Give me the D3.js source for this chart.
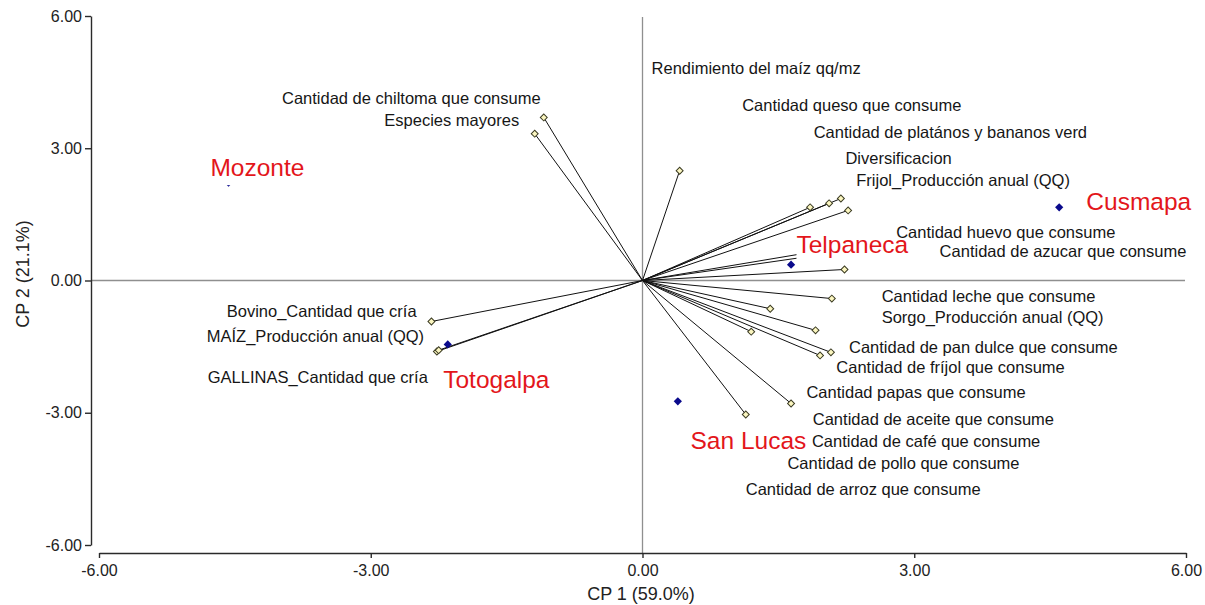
<html>
<script src='https://d3js.org/d3.v7.min.js'></script>
<style>
body { margin: 0; background: #fff; }
text { font-family: 'Liberation Sans', Arial, sans-serif; }
</style>
<body>
<svg width=1205 height=605></svg>
<script>
// variables (vectors) - CP1 / CP2 coordinates
var varNames = [
  "Rendimiento del maíz qq/mz", "Cantidad queso que consume", "Cantidad de platános y bananos verd",
  "Diversificacion", "Frijol_Producción anual (QQ)", "Cantidad huevo que consume",
  "Cantidad de azucar que consume", "Cantidad leche que consume", "Sorgo_Producción anual (QQ)",
  "Cantidad de pan dulce que consume", "Cantidad de fríjol que consume", "Cantidad papas que consume",
  "Cantidad de aceite que consume", "Cantidad de café que consume", "Cantidad de pollo que consume",
  "Cantidad de arroz que consume", "Cantidad de chiltoma que consume", "Especies mayores",
  "Bovino_Cantidad que cría", "MAÍZ_Producción anual (QQ)", "GALLINAS_Cantidad que cría"];
var varCP1 = [0.41, 1.85, 2.06, 2.19, 2.27, 1.80, 1.82, 2.23, 2.09, 1.91, 2.08, 1.96, 1.41, 1.20, 1.64, 1.14, -1.09, -1.19, -2.33, -2.27, -2.25];
var varCP2 = [2.49, 1.66, 1.75, 1.86, 1.59, 0.62, 0.54, 0.25, -0.41, -1.13, -1.63, -1.70, -0.64, -1.16, -2.79, -3.04, 3.70, 3.33, -0.93, -1.61, -1.58];

// sites
var siteNames = ["Mozonte", "Telpaneca", "Cusmapa", "Totogalpa", "San Lucas"];
var siteCP1 = [-4.57, 1.64, 4.60, -2.15, 0.39];
var siteCP2 = [2.22, 0.36, 1.66, -1.45, -2.74];

var tickVals = [-6, -3, 0, 3, 6];

// label anchors (left edge, middle) in CP units
var varLabelX = [0.10, 1.10, 1.89, 2.24, 2.36, 2.80, 3.28, 2.64, 2.64, 2.28, 2.14, 1.81, 1.88, 1.87, 1.60, 1.14, -3.98, -2.85, -4.59, -4.81, -4.80];
var varLabelY = [4.81, 3.97, 3.36, 2.77, 2.29, 1.11, 0.68, -0.36, -0.82, -1.50, -1.97, -2.54, -3.15, -3.65, -4.15, -4.74, 4.15, 3.65, -0.70, -1.27, -2.18];
var siteLabelX = [-4.77, 1.70, 4.90, -2.20, 0.53];
var siteLabelY = [2.56, 0.82, 1.79, -2.24, -3.63];

var svg = d3.select("svg");
var x = d3.scaleLinear().domain([-6, 6]).range([99, 1186]);
var y = d3.scaleLinear().domain([-6, 6]).range([545, 16]);
var fmt = function(d) { return d.toFixed(2); };

// zero reference lines
svg.append("line")
  .attr("x1", x(0)).attr("x2", x(0)).attr("y1", 17).attr("y2", 553)
  .attr("stroke", "#8f8f8f").attr("stroke-width", 1.3);
svg.append("line")
  .attr("x1", 91).attr("x2", 1185).attr("y1", y(0)).attr("y2", y(0))
  .attr("stroke", "#8f8f8f").attr("stroke-width", 1.3);

var vars = varNames.map(function(n, i) {
  return {name: n, a: varCP1[i], b: varCP2[i], lx: varLabelX[i], ly: varLabelY[i]};
});
var sites = siteNames.map(function(n, i) {
  return {name: n, a: siteCP1[i], b: siteCP2[i], lx: siteLabelX[i], ly: siteLabelY[i]};
});

// vectors
svg.append("g").selectAll("line").data(vars).enter().append("line")
  .attr("x1", x(0)).attr("y1", y(0))
  .attr("x2", function(d) { return x(d.a); })
  .attr("y2", function(d) { return y(d.b); })
  .attr("stroke", "#111").attr("stroke-width", 1);

var sq = d3.symbol().type(d3.symbolSquare);
svg.append("g").selectAll("path").data(vars).enter().append("path")
  .attr("d", sq.size(24)())
  .attr("transform", function(d) { return "translate(" + x(d.a) + "," + y(d.b) + ") rotate(45)"; })
  .attr("fill", "#fbf6c0").attr("stroke", "#3b3b22").attr("stroke-width", 1);

svg.append("g").selectAll("path").data(sites).enter().append("path")
  .attr("d", sq.size(34)())
  .attr("transform", function(d) { return "translate(" + x(d.a) + "," + y(d.b) + ") rotate(45)"; })
  .attr("fill", "#0a0a8c");

// site labels with white background
var sl = svg.append("g").selectAll("g").data(sites).enter().append("g");
sl.append("rect").attr("fill", "#fff");
sl.append("text")
  .attr("x", function(d) { return x(d.lx); })
  .attr("y", function(d) { return y(d.ly); })
  .attr("dominant-baseline", "central")
  .attr("font-size", 24.5)
  .attr("fill", "#e3161b")
  .text(function(d) { return d.name; });
sl.each(function() {
  var g = d3.select(this), b = g.select("text").node().getBBox();
  g.select("rect").attr("x", b.x).attr("y", b.y).attr("width", b.width + 2).attr("height", b.height + 4);
});

// variable labels
svg.append("g").selectAll("text").data(vars).enter().append("text")
  .attr("x", function(d) { return x(d.lx); })
  .attr("y", function(d) { return y(d.ly); })
  .attr("dominant-baseline", "central")
  .attr("font-size", 16.5)
  .attr("fill", "#161616")
  .text(function(d) { return d.name; });

// axes
var yAxis = svg.append("g").attr("transform", "translate(91,0)")
  .call(d3.axisLeft(y).tickValues(tickVals).tickFormat(fmt).tickSize(6).tickSizeOuter(0).tickPadding(3));
var xAxis = svg.append("g").attr("transform", "translate(0,553)")
  .call(d3.axisBottom(x).tickValues(tickVals).tickFormat(fmt).tickSize(5).tickSizeOuter(0).tickPadding(7));
[yAxis, xAxis].forEach(function(a) {
  a.selectAll("path, line").attr("stroke", "#2a2a2a").attr("stroke-width", 1.4);
  a.selectAll("text").attr("font-size", 16).attr("fill", "#222")
    .attr("font-family", "'Liberation Sans', Arial, sans-serif");
});

svg.append("text")
  .attr("x", 641).attr("y", 594)
  .attr("text-anchor", "middle").attr("dominant-baseline", "central")
  .attr("font-size", 18).attr("fill", "#222")
  .text("CP 1 (59.0%)");
svg.append("text")
  .attr("transform", "translate(23,274) rotate(-90)")
  .attr("text-anchor", "middle").attr("dominant-baseline", "central")
  .attr("font-size", 18).attr("fill", "#222")
  .text("CP 2 (21.1%)");
</script>
</body>
</html>
